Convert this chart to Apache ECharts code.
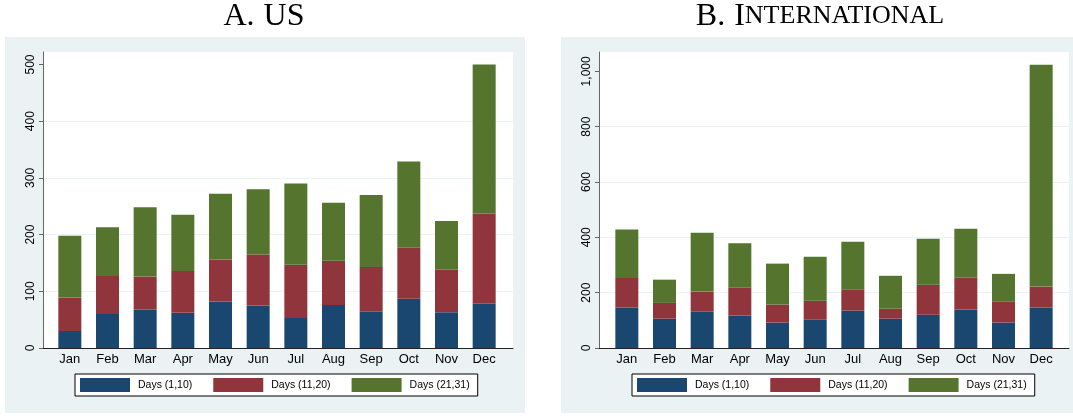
<!DOCTYPE html>
<html>
<head>
<meta charset="utf-8">
<script src="https://cdn.jsdelivr.net/npm/echarts@6/dist/echarts.min.js"></script>
<style>
  html, body { margin: 0; padding: 0; background: #ffffff; }
  #chart { width: 1073px; height: 417px; }
</style>
</head>
<body>
<div id="chart"></div>
<script>
// Monthly counts split by the part of the month (days 1-10, 11-20, 21-31)
const months = ['Jan', 'Feb', 'Mar', 'Apr', 'May', 'Jun', 'Jul', 'Aug', 'Sep', 'Oct', 'Nov', 'Dec'];
const seriesNames = ['Days (1,10)', 'Days (11,20)', 'Days (21,31)'];

// Panel A: US
const usEarly = [30, 60, 68, 62, 82, 75, 53, 76, 64, 87, 63, 78];
const usMid   = [59, 67, 58, 74, 74, 90, 94, 78, 79, 90, 75, 159];
const usLate  = [109, 86, 122, 99, 116, 115, 143, 102, 127, 152, 86, 263];
const usTicks = [0, 100, 200, 300, 400, 500];

// Panel B: International
const intlEarly = [146, 106, 131, 117, 92, 102, 135, 106, 120, 139, 92, 146];
const intlMid   = [107, 57, 73, 101, 65, 69, 76, 36, 109, 115, 75, 76];
const intlLate  = [175, 84, 213, 161, 148, 159, 173, 119, 166, 177, 101, 802];
const intlTicks = [0, 200, 400, 600, 800, 1000];

// Panel headings: [prefix, capital letter(s), small-capital remainder]
const usTitle = ['A.', 'US', ''];
const intlTitle = ['B.', 'I', 'NTERNATIONAL'];

const colors = ['#1a476f', '#90353b', '#55752f'];
const FONT = 'Liberation Sans, Arial, Helvetica, sans-serif';
const SERIF = 'Liberation Serif, Times New Roman, serif';

// panel geometry (pixels)
const panels = [
  { bgX: 5,   frameX: 43,  barX: 51,  legendX: 75,  title: usTitle,
    yMax: 522, ticks: usTicks, values: [usEarly, usMid, usLate] },
  { bgX: 561, frameX: 599, barX: 608, legendX: 632, title: intlTitle,
    yMax: 1070, ticks: intlTicks, values: [intlEarly, intlMid, intlLate] }
];
const plotTop = 52, plotH = 296, frameW = 470, barW = 452;

const grid = [], xAxis = [], yAxis = [], series = [], legend = [], graphics = [];

panels.forEach((p, k) => {
  const gFrame = k * 2, gBars = k * 2 + 1;

  // white plot region with axis lines, ticks and gridlines
  grid.push({ left: p.frameX, top: plotTop, width: frameW, height: plotH,
              show: true, backgroundColor: '#ffffff', borderWidth: 0 });
  // bar area, slightly inset from the plot region
  grid.push({ left: p.barX, top: plotTop, width: barW, height: plotH });

  xAxis.push({
    gridIndex: gFrame, type: 'value', min: 0, max: 1,
    axisLine: { show: true, lineStyle: { color: '#222222', width: 1 } },
    axisTick: { show: false }, axisLabel: { show: false }, splitLine: { show: false }
  });
  xAxis.push({
    gridIndex: gBars, type: 'category', data: months,
    axisLine: { show: false }, axisTick: { show: false },
    axisLabel: { color: '#000000', fontSize: 13, fontFamily: FONT, margin: 5 }
  });

  yAxis.push({
    gridIndex: gFrame, type: 'value', min: 0, max: p.yMax,
    interval: p.ticks[1] - p.ticks[0],
    axisLine: { show: true, lineStyle: { color: '#666666', width: 1 } },
    axisTick: { show: true, length: 4, lineStyle: { color: '#666666' }, customValues: p.ticks },
    axisLabel: {
      rotate: 90, color: '#000000', fontSize: 12, fontFamily: FONT, margin: 6,
      customValues: p.ticks,
      formatter: v => v.toLocaleString('en-US')
    },
    splitLine: { show: true, showMaxLine: false, lineStyle: { color: '#eaf2f3', width: 1 } }
  });
  yAxis.push({ gridIndex: gBars, type: 'value', min: 0, max: p.yMax, show: false });

  p.values.forEach((vals, i) => {
    series.push({
      name: seriesNames[i], type: 'bar', stack: 'panel' + k,
      xAxisIndex: gBars, yAxisIndex: gBars,
      data: vals, barWidth: 23,
      itemStyle: { color: colors[i] },
      emphasis: { disabled: true }
    });
  });

  legend.push({
    data: seriesNames, left: p.legendX, top: 374,
    orient: 'horizontal', icon: 'rect', itemWidth: 50, itemHeight: 14, itemGap: 21,
    padding: [4, 8, 4, 5], backgroundColor: '#ffffff', borderColor: '#000000', borderWidth: 1,
    borderRadius: 0, selectedMode: false,
    textStyle: { color: '#000000', fontSize: 10.5, fontFamily: FONT, padding: [0, 0, 0, 3] }
  });

  // grey graph region behind each panel
  graphics.push({
    type: 'rect', z: -100, silent: true,
    shape: { x: p.bgX, y: 37, width: 520, height: 376 },
    style: { fill: '#eaf2f3' }
  });
  // panel heading in small capitals, built from two type sizes
  const [prefix, caps, smallCaps] = p.title;
  graphics.push({
    type: 'text', z: 100, silent: true,
    x: p.bgX + 259, y: 16.5,
    style: {
      text: '{a|' + prefix + '}{c|' + caps + '}' + (smallCaps ? '{b|' + smallCaps + '}' : ''),
      align: 'center', verticalAlign: 'middle',
      rich: {
        a: { fontFamily: SERIF, fontSize: 32, fill: '#000000' },
        c: { fontFamily: SERIF, fontSize: 32, fill: '#000000', padding: [0, 0, 0, 9] },
        b: { fontFamily: SERIF, fontSize: 26, fill: '#000000' }
      }
    }
  });
});

const chart = echarts.init(document.getElementById('chart'), null, { renderer: 'canvas' });
chart.setOption({
  animation: false,
  backgroundColor: '#ffffff',
  graphic: { elements: graphics },
  grid, xAxis, yAxis, legend, series
});
</script>
</body>
</html>
